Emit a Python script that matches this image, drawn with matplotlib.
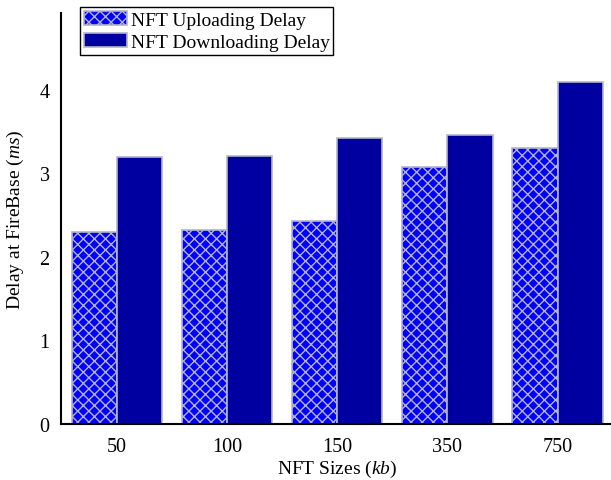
import numpy as np
import matplotlib
matplotlib.use('Agg')
import matplotlib.pyplot as plt

# Delay measurements at FireBase for each NFT size
sizes = ['50', '100', '150', '350', '750']
upload_delay = [2.30, 2.32, 2.43, 3.08, 3.30]
download_delay = [3.19, 3.21, 3.42, 3.46, 4.09]

plt.rcParams['font.family'] = ['Liberation Serif', 'DejaVu Serif']
plt.rcParams['mathtext.fontset'] = 'custom'
plt.rcParams['mathtext.rm'] = 'Liberation Serif'
plt.rcParams['mathtext.it'] = 'Liberation Serif:italic'
plt.rcParams['hatch.linewidth'] = 1.0

fig = plt.figure(figsize=(6.11, 4.81), dpi=100)
ax = fig.add_axes([0.0993, 0.1164, 0.9051, 0.8546])

x = np.arange(len(sizes))
w = 0.41
ax.bar(x - w / 2, upload_delay, w, color='#0000ff', edgecolor='#b4b4c8',
       hatch='xxx', linewidth=1.2, label='NFT Uploading Delay')
ax.bar(x + w / 2, download_delay, w, color='#0000a0', edgecolor='#b4b4c8',
       linewidth=1.2, label='NFT Downloading Delay')

ax.set_xlim(-0.51, 4.51)
ax.set_ylim(0, 4.92)
ax.set_xticks(x)
ax.set_xticklabels(sizes)
ax.set_yticks([0, 1, 2, 3, 4])
ax.tick_params(length=0, labelsize=14.5)
ax.tick_params(axis='x', pad=9)
ax.tick_params(axis='y', pad=8)
for s in ['top', 'right']:
    ax.spines[s].set_visible(False)
for s in ['left', 'bottom']:
    ax.spines[s].set_linewidth(1.5)

ax.set_xlabel('NFT Sizes ($kb$)', fontsize=14, labelpad=2)
ax.set_ylabel('Delay at FireBase ($ms$)', fontsize=14, labelpad=10)

leg = fig.legend(loc='upper left', bbox_to_anchor=(80 / 611, 1 - 8 / 481),
                 borderaxespad=0, fancybox=False, edgecolor='black',
                 framealpha=1, handlelength=2.2, handleheight=0.7,
                 handletextpad=0.2, borderpad=0.2, labelspacing=0.25,
                 fontsize=14)
leg.get_frame().set_linewidth(1.0)

fig.savefig('out.png', dpi=100)
